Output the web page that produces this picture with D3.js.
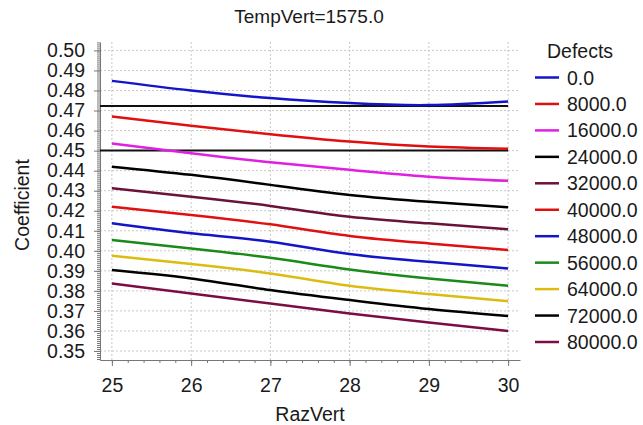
<!DOCTYPE html>
<html>
<head>
<meta charset="utf-8">
<script src="https://cdn.jsdelivr.net/npm/d3@7"></script>
<style>
  body { margin: 0; background: #fff; }
  text { font-family: "Liberation Sans", Arial, sans-serif; fill: #1a1a1a; }
</style>
</head>
<body>
<div id="chart"></div>
<script>
// data
var razVert = [25, 26, 27, 28, 29, 30];
var defects = ["0.0", "8000.0", "16000.0", "24000.0", "32000.0", "40000.0",
  "48000.0", "56000.0", "64000.0", "72000.0", "80000.0"];
var colors = ["#1414c8", "#e01010", "#e020e0", "#000000", "#6a1238", "#e01010",
  "#1414c8", "#1a8a1a", "#dcbc10", "#000000", "#7c0c44"];

var coef0     = [0.4848, 0.4800, 0.4762, 0.4737, 0.4727, 0.4745];
var coef8000  = [0.4670, 0.4624, 0.4582, 0.4545, 0.4520, 0.4509];
var coef16000 = [0.4535, 0.4487, 0.4442, 0.4404, 0.4370, 0.4349];
var coef24000 = [0.4420, 0.4379, 0.4329, 0.4279, 0.4245, 0.4217];
var coef32000 = [0.4312, 0.4270, 0.4224, 0.4170, 0.4137, 0.4107];
var coef40000 = [0.4220, 0.4179, 0.4132, 0.4074, 0.4037, 0.4004];
var coef48000 = [0.4137, 0.4087, 0.4045, 0.3984, 0.3945, 0.3912];
var coef56000 = [0.4054, 0.4012, 0.3965, 0.3907, 0.3862, 0.3825];
var coef64000 = [0.3975, 0.3934, 0.3887, 0.3825, 0.3784, 0.3749];
var coef72000 = [0.3904, 0.3862, 0.3804, 0.3754, 0.3709, 0.3674];
var coef80000 = [0.3837, 0.3787, 0.3737, 0.3687, 0.3642, 0.3600];

var refLines = [0.4723, 0.45];
var yTicks = [0.35, 0.36, 0.37, 0.38, 0.39, 0.40, 0.41, 0.42, 0.43, 0.44, 0.45, 0.46, 0.47, 0.48, 0.49, 0.50];

var allSeries = [coef0, coef8000, coef16000, coef24000, coef32000, coef40000,
  coef48000, coef56000, coef64000, coef72000, coef80000];

var width = 643, height = 425;
var plot = {left: 100, right: 520, top: 42, bottom: 360};

var svg = d3.select("#chart").append("svg")
  .attr("width", width)
  .attr("height", height);

var x = d3.scaleLinear()
  .domain([24.85, 30.15])
  .range([plot.left, plot.right]);

var y = d3.scaleLinear()
  .domain([0.3455, 0.5042])
  .range([plot.bottom, plot.top]);

// grid
svg.append("g")
  .selectAll("line")
  .data(razVert)
  .enter().append("line")
  .attr("x1", d => x(d)).attr("x2", d => x(d))
  .attr("y1", plot.top).attr("y2", plot.bottom)
  .attr("stroke", "#c8c8c8")
  .attr("stroke-dasharray", "2,2");

svg.append("g")
  .selectAll("line")
  .data(yTicks)
  .enter().append("line")
  .attr("x1", plot.left).attr("x2", plot.right)
  .attr("y1", d => y(d)).attr("y2", d => y(d))
  .attr("stroke", "#c8c8c8")
  .attr("stroke-dasharray", "2,2");

// minor ticks
var yMinor = d3.range(346, 505).map(d => d / 1000);
var xMinor = d3.range(125, 151).map(d => d / 5);

var yAxis = svg.append("g")
  .attr("transform", `translate(${plot.left},0)`)
  .call(d3.axisLeft(y).tickValues(yMinor).tickSize(3).tickFormat("").tickSizeOuter(0));
yAxis.select(".domain").remove();

var xAxisMinor = svg.append("g")
  .attr("transform", `translate(0,${plot.bottom})`)
  .call(d3.axisBottom(x).tickValues(xMinor).tickSize(3).tickFormat("").tickSizeOuter(0));
xAxisMinor.select(".domain").remove();

// major axes
var yAxisMajor = svg.append("g")
  .attr("transform", `translate(${plot.left},0)`)
  .call(d3.axisLeft(y).tickValues(yTicks).tickSize(6).tickPadding(9)
    .tickFormat(d3.format(".2f")).tickSizeOuter(0));

var xAxisMajor = svg.append("g")
  .attr("transform", `translate(0,${plot.bottom})`)
  .call(d3.axisBottom(x).tickValues(razVert).tickSize(6).tickPadding(12)
    .tickFormat(d3.format("d")).tickSizeOuter(0));

svg.selectAll(".domain").attr("stroke", "#777");
svg.selectAll(".tick line").attr("stroke", "#777");
svg.selectAll(".tick text")
  .style("font-family", "'Liberation Sans', Arial, sans-serif")
  .style("font-size", "19.5px")
  .attr("fill", "#1a1a1a");

// reference lines
svg.append("g")
  .selectAll("line")
  .data(refLines)
  .enter().append("line")
  .attr("x1", plot.left).attr("x2", x(30))
  .attr("y1", d => y(d)).attr("y2", d => y(d))
  .attr("stroke", "#111")
  .attr("stroke-width", 2);

// series
var line = d3.line()
  .x((d, i) => x(razVert[i]))
  .y(d => y(d))
  .curve(d3.curveNatural);

svg.append("g")
  .selectAll("path")
  .data(allSeries)
  .enter().append("path")
  .attr("fill", "none")
  .attr("stroke", (d, i) => colors[i])
  .attr("stroke-width", 2.5)
  .attr("d", line);

// titles
svg.append("text")
  .attr("x", 309).attr("y", 23)
  .attr("text-anchor", "middle")
  .style("font-size", "19px")
  .text("TempVert=1575.0");

svg.append("text")
  .attr("x", 310).attr("y", 421)
  .attr("text-anchor", "middle")
  .style("font-size", "19.5px")
  .text("RazVert");

svg.append("text")
  .attr("transform", "translate(29,205) rotate(-90)")
  .attr("text-anchor", "middle")
  .style("font-size", "19.5px")
  .text("Coefficient");

// legend
var legend = svg.append("g");
legend.append("text")
  .attr("x", 547).attr("y", 58)
  .style("font-size", "19.5px")
  .text("Defects");

var rows = legend.selectAll("g.row")
  .data(defects)
  .enter().append("g")
  .attr("class", "row")
  .attr("transform", (d, i) => `translate(0,${77.5 + i * 26.45})`);

rows.append("line")
  .attr("x1", 535).attr("x2", 559)
  .attr("y1", 0).attr("y2", 0)
  .attr("stroke", (d, i) => colors[i])
  .attr("stroke-width", 2.5);

rows.append("text")
  .attr("x", 567).attr("y", 7)
  .style("font-size", "19.5px")
  .text(d => d);
</script>
</body>
</html>
